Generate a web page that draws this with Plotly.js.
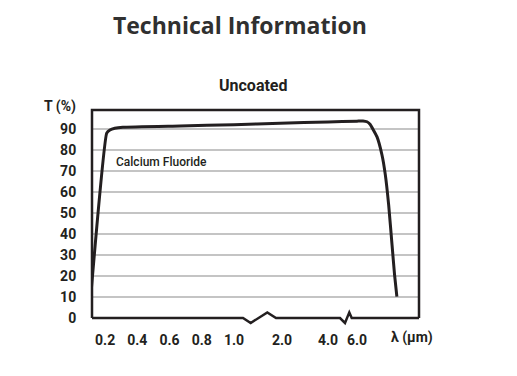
<!DOCTYPE html>
<html>
<head>
<meta charset="utf-8">
<script src="https://cdn.plot.ly/plotly-3.0.1.min.js"></script>
<style>html,body{margin:0;padding:0;background:#fff;}#chart{width:517px;height:376px;}</style>
</head>
<body>
<div id="chart"></div>
<script>
// Wavelength (µm) and transmission (%)
const wavelength = [0.111, 0.21, 0.23, 0.26, 0.31, 0.665, 1.0, 1.96, 4.0, 6.0, 6.78, 7.3, 7.7, 8.6, 9.26, 9.7, 10.13, 10.57, 10.9, 11.2];
const transmission = [10.5, 88, 89.5, 90.3, 90.8, 91.4, 92.0, 92.7, 93.3, 93.7, 93.8, 93.4, 92.2, 86.3, 77.6, 68, 53.8, 34.8, 20.5, 10.2];
const tickWavelengths = [0.2, 0.4, 0.6, 0.8, 1.0, 2.0, 4.0, 6.0];
const tickLabels = ['0.2', '0.4', '0.6', '0.8', '1.0', '2.0', '4.0', '6.0'];
const yTicks = [0, 10, 20, 30, 40, 50, 60, 70, 80, 90];

// Broken wavelength axis: knots (wavelength -> axis position)
const knotWl = [0.1, 1.0, 2.0, 4.0, 6.0, 12.0];
const knotPos = [89, 234, 282, 328, 357, 403];
function axisPos(w) {
  for (let i = 0; i < knotWl.length - 1; i++) {
    if (w <= knotWl[i + 1] || i === knotWl.length - 2) {
      const t = (w - knotWl[i]) / (knotWl[i + 1] - knotWl[i]);
      return knotPos[i] + t * (knotPos[i + 1] - knotPos[i]);
    }
  }
}
const xs = wavelength.map(axisPos);
const tickPos = tickWavelengths.map(axisPos);

const ink = '#231f20';
const narrow = 'Roboto, "Liberation Sans Narrow", sans-serif';

const trace = {
  x: xs, y: transmission, type: 'scatter', mode: 'lines',
  line: {color: ink, width: 3, shape: 'spline', smoothing: 0.4},
  hoverinfo: 'skip', showlegend: false
};

const dy1 = -0.024, dy2 = 0.027;
const bottomPath = `M 92,0 L 243,0 L 250.7,${dy1} L 267.3,${dy2} L 276,0 L 340,0 L 345,${dy1} L 349.3,${dy2} L 351.7,0 L 419,0`;

const layout = {
  width: 517, height: 376,
  margin: {l: 92, r: 98, t: 110, b: 58},
  paper_bgcolor: '#fff', plot_bgcolor: '#fff',
  title: {
    text: 'Technical Information',
    font: {family: '"Open Sans", Lato, sans-serif', size: 23, weight: 'bold', color: '#303030'},
    xref: 'container', yref: 'container', x: 0.464, xanchor: 'center', y: 0.932, yanchor: 'middle'
  },
  xaxis: {
    range: [92, 419], showgrid: false, zeroline: false, showline: false,
    tickmode: 'array', tickvals: tickPos, ticktext: tickLabels,
    ticks: 'outside', ticklen: 9, tickcolor: 'rgba(0,0,0,0)',
    tickfont: {family: narrow, size: 14, weight: 'bold', color: ink},
    fixedrange: true
  },
  yaxis: {
    range: [0, 99], showgrid: true, gridcolor: '#c4c4c4', gridwidth: 1.2,
    zeroline: false, showline: false,
    tickmode: 'array', tickvals: yTicks,
    ticks: 'outside', ticklen: 12, tickcolor: 'rgba(0,0,0,0)',
    tickfont: {family: narrow, size: 14, weight: 'bold', color: ink},
    fixedrange: true
  },
  shapes: [
    {type: 'path', xref: 'paper', yref: 'paper', path: 'M 0,0 L 0,1 L 1,1 L 1,0', line: {color: ink, width: 2.5}, layer: 'above'},
    {type: 'path', xref: 'x', yref: 'paper', path: bottomPath, line: {color: ink, width: 2.5}, layer: 'above'}
  ],
  annotations: [
    {text: 'Uncoated', xref: 'paper', yref: 'paper', x: 0.495, y: 1.12, xanchor: 'center', yanchor: 'middle', showarrow: false,
     font: {family: narrow, size: 16, weight: 'bold', color: ink}},
    {text: 'T (%)', xref: 'paper', yref: 'paper', x: -0.043, y: 1.016, xanchor: 'right', yanchor: 'middle', showarrow: false,
     font: {family: narrow, size: 14, weight: 'bold', color: ink}},
    {text: 'Calcium Fluoride', xref: 'paper', yref: 'paper', x: 0.066, y: 0.752, xanchor: 'left', yanchor: 'middle', showarrow: false,
     font: {family: narrow, size: 12, weight: 500, color: ink}},
    {text: 'λ (μm)', xref: 'paper', yref: 'paper', x: 0.98, y: -0.096, xanchor: 'center', yanchor: 'middle', showarrow: false,
     font: {family: narrow, size: 14, weight: 'bold', color: ink}}
  ]
};

Plotly.newPlot('chart', [trace], layout, {staticPlot: true, displayModeBar: false});
</script>
</body>
</html>
